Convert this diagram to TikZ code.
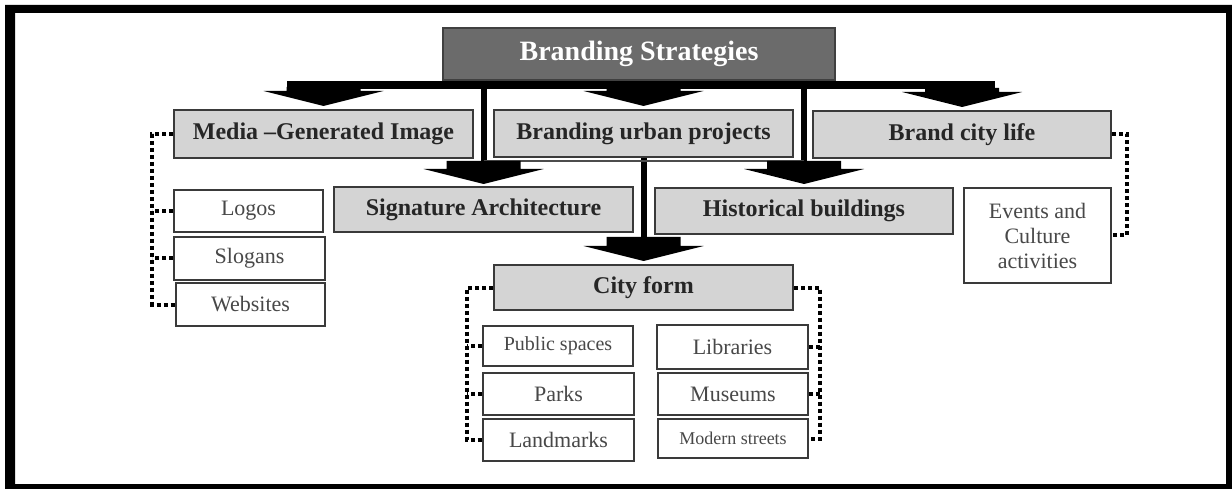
\documentclass[tikz,border=0pt]{standalone}
\usepackage{fontspec}
\setmainfont{Liberation Serif}
\usetikzlibrary{calc}
\definecolor{boxgray}{HTML}{D4D4D4}
\definecolor{titlegray}{HTML}{6B6B6B}
\definecolor{edgegray}{HTML}{3A3A3A}
\definecolor{textgray}{HTML}{484848}
% broad arrow head: #1 = tip coordinate, #2 = height of the neck above the head
\newcommand{\headarrow}[2]{%
  \fill ($(#1)+(-37,-15-#2)$) -- ++(74,0) -- ++(0,#2) -- ++(23,0) -- (#1) -- ++(-60,-15) -- ++(23,0) -- cycle;}

\begin{document}
\begin{tikzpicture}[x=1pt,y=-1pt]
    \tikzstyle{strategy} = [draw=edgegray, line width=2pt, fill=boxgray, inner sep=0pt, text=black!85, font=\bfseries\fontsize{24}{26}\selectfont]
    \tikzstyle{item} = [draw=edgegray, line width=2pt, fill=white, inner sep=0pt, text=textgray, font=\fontsize{22}{25}\selectfont]
    \tikzstyle{dotline} = [line width=4pt, dash pattern=on 4pt off 3pt]
    \tikzstyle{stem} = [line width=6pt]
    \useasboundingbox (0,0) rectangle (1232,489);
    \fill[black, even odd rule] (5,5) rectangle (1232,489) (15,13) rectangle (1226,484);

    \node[draw=black!75, line width=2pt, fill=titlegray, text=white, font=\bfseries\fontsize{28}{30}\selectfont, minimum width=392pt, minimum height=52pt] (title) at (639,54) {Branding Strategies};

    \node[strategy, minimum width=299pt, minimum height=48pt] (media) at (323.5,134) {Media --Generated Image};
    \node[strategy, minimum width=299pt, minimum height=47pt] (urban) at (643.5,133.5) {Branding urban projects};
    \node[strategy, minimum width=298pt, minimum height=47pt] (citylife) at (962,134.5) {Brand city life};
    \node[strategy, minimum width=299pt, minimum height=45pt] (signature) at (483.5,209.5) {Signature Architecture};
    \node[strategy, minimum width=298pt, minimum height=46pt] (historical) at (804,211) {Historical buildings};
    \node[strategy, minimum width=299pt, minimum height=45pt] (cityform) at (643.5,287.5) {City form};

    \node[item, minimum width=149pt, minimum height=42pt] (logos) at (248.5,211) {Logos};
    \node[item, minimum width=151pt, minimum height=43pt] (slogans) at (249.5,258.5) {Slogans};
    \node[item, minimum width=149pt, minimum height=43pt] (websites) at (250.5,304.5) {Websites};
    \node[item, minimum width=147pt, minimum height=95pt, align=center] (events) at (1037.5,235.5) {Events and\\Culture\\activities};
    \node[item, minimum width=150pt, minimum height=40pt, font=\fontsize{20}{24}\selectfont] (public) at (558,346) {Public spaces};
    \node[item, minimum width=151pt, minimum height=42pt] (parks) at (558.5,394) {Parks};
    \node[item, minimum width=151pt, minimum height=42pt] (landmarks) at (558.5,440) {Landmarks};
    \node[item, minimum width=151pt, minimum height=44pt] (libraries) at (732.5,347) {Libraries};
    \node[item, minimum width=150pt, minimum height=42pt] (museums) at (733,394) {Museums};
    \node[item, minimum width=150pt, minimum height=39pt, font=\fontsize{18}{22}\selectfont] (modern) at (733,438.5) {Modern streets};

    % thick arrows
    \coordinate (mediatip) at ($(media.north)+(0,-3)$);
    \coordinate (urbantip) at ($(urban.north)+(0,-3)$);
    \coordinate (lifetip) at ($(citylife.north)+(0,-3)$);
    \coordinate (sigtip) at ($(signature.north)+(0,-2)$);
    \coordinate (histip) at ($(historical.north)+(0,-3)$);
    \coordinate (citytip) at ($(cityform.north)+(0,-3)$);
    \fill ($(mediatip |- title.south)+(-37,0)$) rectangle ($(lifetip |- title.south)+(33,8)$);
    \draw[stem] (sigtip |- title.south) -- ($(sigtip)+(0,-22)$);
    \draw[stem] (histip |- title.south) -- ($(histip)+(0,-22)$);
    \draw[stem] (urban.south) -- ($(citytip)+(0,-23)$);
    \draw[line width=2.5pt, black!70] ($(sigtip)+(0,-23)$) -- ($(histip)+(0,-23)$);
    \headarrow{mediatip}{4}
    \headarrow{urbantip}{4}
    \headarrow{lifetip}{4}
    \headarrow{sigtip}{8}
    \headarrow{histip}{8}
    \headarrow{citytip}{9}

    % dotted brackets
    \coordinate (lbus) at (152,0);
    \coordinate (cbusl) at (467,0);
    \coordinate (cbusr) at (820,0);
    \coordinate (rbus) at (1127,0);
    \draw[dotline] (media.west) -| (lbus |- websites.west) -- (websites.west);
    \foreach \n in {logos, slogans}
        \draw[dotline] (\n.west) -- (\n.west -| lbus);
    \draw[dotline] (citylife.east) -| (rbus |- events.east) -- (events.east);
    \draw[dotline] (cityform.west) -| (cbusl |- landmarks.west) -- (landmarks.west);
    \foreach \n in {public, parks}
        \draw[dotline] (\n.west) -- (\n.west -| cbusl);
    \draw[dotline] (cityform.east) -| (cbusr |- modern.east) -- (modern.east);
    \foreach \n in {libraries, museums}
        \draw[dotline] (\n.east) -- (\n.east -| cbusr);
\end{tikzpicture}
\end{document}
